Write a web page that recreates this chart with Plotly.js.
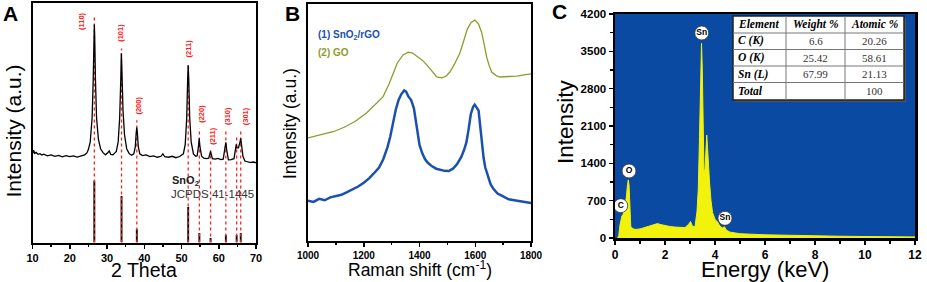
<!DOCTYPE html>
<html><head><meta charset="utf-8">
<script src="https://cdn.plot.ly/plotly-3.0.1.min.js"></script>
<style>html,body{margin:0;padding:0;background:#fff}#chart{width:927px;height:282px}</style>
</head><body><div id="chart"></div>
<script>
// ---------- Panel A: XRD ----------
const xrdTheta = [10,10.3,10.6,11,11.5,12,12.5,13,14,15,16,17,18,19,20,21,22,23,24,24.6,25,25.5,26,26.3,26.5,26.6,26.7,26.9,27.2,27.7,28.3,29,29.6,30.2,30.6,31,31.6,32,32.5,33,33.4,33.7,33.85,34,34.3,34.7,35.3,36,36.6,37.2,37.6,37.85,38,38.15,38.4,38.8,39.5,40.5,41.5,42.5,43.5,44.5,45,45.5,46.5,47.5,48.5,49.5,50.5,51,51.4,51.65,51.8,51.95,52.2,52.6,53.2,53.8,54.2,54.55,54.75,54.95,55.4,56,56.7,57.3,57.8,58.3,59,59.8,60.6,61.2,61.65,61.9,62.15,62.6,63.3,64.1,64.5,64.7,64.9,65.3,65.7,65.9,66.1,66.5,67,67.8,68.6,69.3,70];
const xrdInt   = [37,38.5,37.2,37.6,36.8,37.1,36.5,36.9,36.2,36.6,36.0,36.4,35.8,36.3,35.9,36.2,35.7,36.3,36.6,37.4,38.8,42,52,68,86,91,86,68,52,43,39,37.4,36.6,37.5,38.2,36.8,36.6,37.2,38,42,52,68,79,72,55,45,39,37,36.4,37,40,46,48,46,40,37,36.3,36.6,35.9,36.2,35.6,36,37,35.8,35.6,36,35.4,35.9,37,41,52,68,74,68,52,42,37,36,36.2,40,43.5,40,36,35.2,35,35.2,38,35,34.8,35.1,34.6,34.8,38.5,41.8,38.5,34.5,34.6,35,39,41,39.5,39.5,42,43.5,41,36,34,33.8,33.4,33.6,33.3];
const hklLabels = ["(110)","(101)","(200)","(211)","(220)","(211)","(310)","(301)"];
const hklLabelX = [23.3,33.6,38.4,52.0,55.15,58.1,62.4,67.05];
const hklLabelY = [92.5,87.7,57.3,81,53.6,44.4,52.7,52.7];
const refTheta  = [26.6,33.9,38.0,51.8,54.8,57.8,61.9,64.8,65.9];
const refInt    = [25.8,19.4,5.6,14.8,4.0,1.9,3.1,3.1,4.0];
const guideTop  = [94,81,51,75,47.7,38.5,46.9,44.8,46.9];

// ---------- Panel B: Raman ----------
const ramanShiftRGO = [1000,1020,1040,1060,1080,1100,1120,1140,1160,1180,1200,1220,1240,1255,1270,1285,1295,1305,1315,1325,1335,1345,1352,1360,1370,1380,1390,1395,1400,1410,1420,1430,1445,1460,1475,1490,1505,1520,1535,1550,1560,1568,1576,1580,1584,1592,1598,1604,1612,1620,1625,1630,1636,1645,1655,1665,1680,1700,1720,1740,1760,1780,1800];
const ramanIntRGO   = [17.0,16.5,17.8,17.2,18.4,18.8,19.5,20.6,21.8,23.0,24.6,26.5,29.0,31.0,34.5,39.5,44,50,55.5,59.5,62,63.5,63,61,59.5,56,48.5,43,40.5,37,34.5,33,31.5,30.5,30,29.6,29.5,30.5,32.5,35.5,38.5,41.5,47,51,53.5,56.5,57.5,56.5,55,46,40,35,31,27.5,24,22,20,18.8,17.6,17.2,16.8,16.3,16.0];
const ramanShiftGO  = [1000,1050,1090,1130,1170,1210,1240,1269,1290,1305,1320,1341,1359,1375,1390,1410,1426,1445,1462,1480,1495,1509,1525,1545,1560,1572,1585,1599,1612,1623,1632,1641,1650,1659,1675,1689,1720,1749,1775,1800];
const ramanIntGO    = [43.5,44.8,46.1,48,50.5,54,57.5,60.8,66,70.9,75,78.5,79.7,79.3,78,76.3,74.3,71.5,69.2,68.8,69.5,71.3,74.5,79.3,85,89.5,92.2,93.2,91.5,88,83,77.6,74,71.3,69.8,69.2,69.4,69.6,70.1,70.5];
const ramanLegend = ["(1) SnO<sub>2</sub>/rGO","(2) GO"];

// ---------- Panel C: EDS ----------
const edsEnergy = [0.10,0.15,0.2,0.25,0.28,0.32,0.38,0.45,0.5,0.53,0.56,0.6,0.63,0.7,0.8,1.0,1.2,1.4,1.6,1.7,1.8,2.0,2.2,2.4,2.6,2.8,2.95,3.02,3.1,3.2,3.28,3.33,3.38,3.43,3.46,3.49,3.52,3.56,3.6,3.64,3.67,3.7,3.74,3.78,3.84,3.9,4.0,4.1,4.2,4.3,4.38,4.45,4.6,5.0,6,7,8,9,10,11,12];
const edsCounts = [0,40,250,380,420,430,560,750,1000,1090,1000,600,220,180,160,170,200,230,250,270,255,230,215,205,200,195,260,310,220,210,500,900,1900,3200,3650,3200,1900,1200,1300,1800,1930,1700,1300,1050,700,480,350,300,220,190,210,150,110,80,60,48,40,33,28,24,20];
const edsMarkText = ["Sn","O","C","Sn"];
const edsMarkX = [3.47,0.56,0.23,4.4];
const edsMarkY = [3844,1256,606,369];
const tableHeader = ["Element","Weight %","Atomic %"];
const tableElement = ["C (K)","O (K)","Sn (L)","Total"];
const tableWeight = ["6.6","25.42","67.99",""];
const tableAtomic = ["20.26","58.61","21.13","100"];

const W = 927, H = 282;
const px = v => v / W, py = v => 1 - v / H;
const AR = "Arial, 'Liberation Sans', sans-serif";
const SERIF = "'Liberation Serif', 'DejaVu Serif', serif";

const traces = [];
// A: red guide lines
refTheta.forEach((t, i) => {
  traces.push({x:[t,t], y:[0,guideTop[i]], xaxis:'x', yaxis:'y', mode:'lines',
    line:{color:'#ff2020', width:1.3, dash:'dot'}, hoverinfo:'skip', showlegend:false});
});
traces.push({x:xrdTheta, y:xrdInt, xaxis:'x', yaxis:'y', mode:'lines', line:{color:'#000', width:1.3}, showlegend:false});
traces.push({x:refTheta, y:refInt, xaxis:'x', yaxis:'y', type:'bar', width:0.5, marker:{color:'#000', line:{width:0}}, showlegend:false});
// B
traces.push({x:ramanShiftGO, y:ramanIntGO, xaxis:'x2', yaxis:'y2', mode:'lines', line:{color:'#8f9b2c', width:1.3}, showlegend:false});
traces.push({x:ramanShiftRGO, y:ramanIntRGO, xaxis:'x2', yaxis:'y2', mode:'lines', line:{color:'#1a50b0', width:2.5}, showlegend:false});
// C
traces.push({x:edsEnergy, y:edsCounts, xaxis:'x3', yaxis:'y3', mode:'lines', fill:'tozeroy', fillcolor:'#f2f20c', line:{color:'#f2f20c', width:1}, showlegend:false});
traces.push({x:edsMarkX, y:edsMarkY, xaxis:'x3', yaxis:'y3', mode:'markers+text', text:edsMarkText, textposition:'middle center',
  textfont:{family:AR, size:8.5, color:'#000', weight:'bold'}, marker:{size:14, color:'#fff', line:{color:'#333', width:0.8}}, cliponaxis:false, showlegend:false});

const baseAxis = {showline:true, mirror:true, linecolor:'#000', linewidth:2, zeroline:false, showgrid:false,
  ticks:'outside', ticklen:4, tickwidth:1.5, tickcolor:'#000', tickfont:{family:AR, size:11, color:'#000', weight:'bold'}, fixedrange:true};

function ann(text, x, y, size, opts) {
  return Object.assign({text:text, x:px(x), y:py(y), xref:'paper', yref:'paper', xanchor:'center', yanchor:'middle', showarrow:false,
    font:{family:AR, size:size, color:'#000'}}, opts || {});
}
const annotations = [
  ann('<b>A</b>', 10, 14, 21),
  ann('<b>B</b>', 292, 14, 21),
  ann('<b>C</b>', 559, 12, 21),
  ann('Intensity (a.u.)', 12.5, 131, 21, {textangle:-90}),
  ann('2 Theta', 144, 269.5, 19.5),
  ann('Intensity (a.u.)', 290, 124, 17.5, {textangle:-90}),
  ann('Raman shift (cm<sup>-1</sup>)', 420, 268.5, 17.5),
  ann('Intensity', 565, 122, 22.5, {textangle:-90}),
  ann('Energy (keV)', 765, 269, 22),
  ann('<b>SnO<sub>2</sub></b>', 170, 181, 11, {xanchor:'left', font:{family:AR, size:11, color:'#222'}}),
  ann('JCPDS 41-1445', 169, 194, 11.5, {xanchor:'left', font:{family:AR, size:11.5, color:'#333'}}),
  ann('<b>' + ramanLegend[0] + '</b>', 316, 35, 10, {xanchor:'left', font:{family:AR, size:10, color:'#1a50b0'}}),
  ann('<b>' + ramanLegend[1] + '</b>', 316, 52, 10, {xanchor:'left', font:{family:AR, size:10, color:'#8f9b2c'}})
];
hklLabels.forEach((t, i) => annotations.push({text:'<b>' + t + '</b>', x:hklLabelX[i], y:hklLabelY[i], xref:'x', yref:'y', textangle:-90,
  xanchor:'center', yanchor:'middle', showarrow:false, font:{family:AR, size:7.5, color:'#ff2020'}}));

// EDS inset table drawn from the table arrays
const colX = [736, 815.5, 874.5];
const rowY = [24.5, 41, 57.5, 74, 91];
tableHeader.forEach((h, j) => annotations.push(ann('<b><i>' + h + '</i></b>', colX[j], rowY[0], 11.5,
  {xanchor: j === 0 ? 'left' : 'center', font:{family:SERIF, size:11.5, color:'#000'}})));
tableElement.forEach((e, i) => {
  annotations.push(ann('<b><i>' + e + '</i></b>', colX[0], rowY[i+1], 11.5, {xanchor:'left', font:{family:SERIF, size:11.5, color:'#000'}}));
  if (tableWeight[i]) annotations.push(ann(tableWeight[i], colX[1], rowY[i+1], 11, {font:{family:SERIF, size:11, color:'#333'}}));
  if (tableAtomic[i]) annotations.push(ann(tableAtomic[i], colX[2], rowY[i+1], 11, {font:{family:SERIF, size:11, color:'#333'}}));
});
const shapes = [
  {type:'rect', xref:'x3 domain', yref:'y3 domain', x0:0, x1:1, y0:0, y1:1, fillcolor:'#0b4aa2', line:{width:0}, layer:'below'},
  {type:'rect', xref:'paper', yref:'paper', x0:px(735), x1:px(906), y0:py(102), y1:py(18), fillcolor:'#555', line:{width:0}, layer:'above'},
  {type:'rect', xref:'paper', yref:'paper', x0:px(733), x1:px(904), y0:py(100), y1:py(16), fillcolor:'#fff', line:{color:'#222', width:1.5}, layer:'above'}
];
[786, 845].forEach(v => shapes.push({type:'line', xref:'paper', yref:'paper', x0:px(v), x1:px(v), y0:py(100), y1:py(16), line:{color:'#777', width:1}, layer:'above'}));
[33, 49.5, 66, 82.5].forEach(v => shapes.push({type:'line', xref:'paper', yref:'paper', x0:px(733), x1:px(904), y0:py(v), y1:py(v), line:{color:'#777', width:1}, layer:'above'}));

const layout = {
  width:W, height:H, margin:{l:0, r:0, t:0, b:0}, paper_bgcolor:'#fff', plot_bgcolor:'rgba(0,0,0,0)', showlegend:false, barmode:'overlay',
  xaxis: Object.assign({}, baseAxis, {domain:[px(32.5), px(256)], range:[10,70], dtick:10, tick0:10, anchor:'y', minor:{dtick:5, ticklen:2.5, ticks:'outside', tickcolor:'#000'}}),
  yaxis: Object.assign({}, baseAxis, {domain:[py(242.5), py(3)], range:[0,100], ticks:'', showticklabels:false, anchor:'x'}),
  xaxis2: Object.assign({}, baseAxis, {domain:[px(308), px(531)], range:[1000,1800], dtick:200, tick0:1000, anchor:'y2', linewidth:1.8, tickfont:{family:AR, size:10, color:'#000', weight:'bold'}, minor:{dtick:100, ticklen:2.5, ticks:'outside', tickcolor:'#000'}}),
  yaxis2: Object.assign({}, baseAxis, {domain:[py(241), py(4)], range:[0,100], ticks:'', showticklabels:false, anchor:'x2', linewidth:1.8}),
  xaxis3: Object.assign({}, baseAxis, {domain:[px(615), px(915)], range:[0,12], dtick:2, tick0:0, anchor:'y3', linewidth:2.5, tickfont:{family:AR, size:12, color:'#000', weight:'bold'}, minor:{dtick:1, ticklen:3, ticks:'outside', tickcolor:'#000'}}),
  yaxis3: Object.assign({}, baseAxis, {domain:[py(238), py(14)], range:[0,4200], dtick:700, tick0:0, anchor:'x3', linewidth:2.5, tickfont:{family:AR, size:11.5, color:'#000', weight:'bold'}, minor:{dtick:350, ticklen:3, ticks:'outside', tickcolor:'#000'}}),
  shapes: shapes,
  annotations: annotations
};
Plotly.newPlot('chart', traces, layout, {displayModeBar:false, staticPlot:true});
</script></body></html>
